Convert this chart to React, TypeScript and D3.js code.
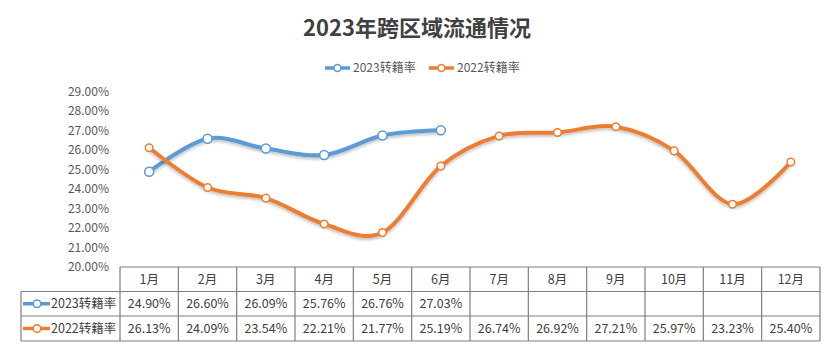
import React from 'react';
import * as d3 from 'd3';

const months = ['1月', '2月', '3月', '4月', '5月', '6月', '7月', '8月', '9月', '10月', '11月', '12月'];
const rate2023 = [24.9, 26.6, 26.09, 25.76, 26.76, 27.03];
const rate2022 = [26.13, 24.09, 23.54, 22.21, 21.77, 25.19, 26.74, 26.92, 27.21, 25.97, 23.23, 25.4];
const yTicks = [20, 21, 22, 23, 24, 25, 26, 27, 28, 29];
const seriesNames = ['2023转籍率', '2022转籍率'];
const title = '2023年跨区域流通情况';

const W = 834;
const H = 348;
const BLUE = '#5B9BD5';
const ORANGE = '#ED7D31';
const FONT = '"Noto Sans CJK SC", "Noto Sans", sans-serif';

export default function App() {
  const x = d3.scaleBand<string>().domain(months).range([120, 820]);
  const y = d3.scaleLinear().domain([20, 29]).range([267, 92]);
  const cx = (i: number) => (x(months[i]) as number) + x.bandwidth() / 2;
  const line = d3
    .line<number>()
    .x((_, i) => cx(i))
    .y((d) => y(d))
    .curve(d3.curveCardinal.tension(0));

  const series = [
    { name: seriesNames[0], data: rate2023, color: BLUE, r: 4.5 },
    { name: seriesNames[1], data: rate2022, color: ORANGE, r: 3.8 },
  ];

  const rowTops = [267, 291.5, 316, 341];
  const tableLeft = 21;
  const tableRight = 820;

  return (
    <svg
      width={W}
      height={H}
      style={{ position: 'absolute', left: 0, top: 0, background: '#fff' }}
      fontFamily={FONT}
    >
      <defs>
        <filter id="sh" x="-10%" y="-20%" width="120%" height="150%">
          <feDropShadow dx="0" dy="2" stdDeviation="1.5" floodColor="#000" floodOpacity="0.25" />
        </filter>
      </defs>
      <rect width={W} height={H} fill="#fff" />
      <text x={417} y={36} textAnchor="middle" fontSize={22} fontWeight="bold" fill="#404040">
        {title}
      </text>

      {/* legend */}
      {series.map((s, i) => {
        const lx = i === 0 ? 325 : 429;
        return (
          <g key={s.name}>
            <line x1={lx} x2={lx + 25} y1={68} y2={68} stroke={s.color} strokeWidth={3.5} />
            <circle cx={lx + 12.5} cy={68} r={3.5} fill="#fff" stroke={s.color} strokeWidth={1.5} />
            <text x={lx + 28} y={72} fontSize={12} fill="#595959">
              {s.name}
            </text>
          </g>
        );
      })}

      {/* y axis labels */}
      {yTicks.map((t) => (
        <text key={t} x={109} y={y(t) + 4} textAnchor="end" fontSize={12} fill="#595959">
          {t.toFixed(2)}%
        </text>
      ))}

      {/* lines */}
      {series.map((s) => (
        <g key={s.name}>
          <path d={line(s.data) || ''} fill="none" stroke={s.color} strokeWidth={4} strokeLinecap="round" filter="url(#sh)" />
          {s.data.map((v, i) => (
            <circle key={i} cx={cx(i)} cy={y(v)} r={s.r} fill="#fff" stroke={s.color} strokeWidth={1.5} />
          ))}
        </g>
      ))}

      {/* table */}
      <g stroke="#7f7f7f" strokeWidth={1.2}>
        <line x1={120} x2={tableRight} y1={rowTops[0]} y2={rowTops[0]} />
        {rowTops.slice(1).map((ry) => (
          <line key={ry} x1={tableLeft} x2={tableRight} y1={ry} y2={ry} />
        ))}
        <line x1={tableLeft} x2={tableLeft} y1={rowTops[1]} y2={rowTops[3]} />
        {months.map((m) => (
          <line key={m} x1={x(m) as number} x2={x(m) as number} y1={rowTops[0]} y2={rowTops[3]} />
        ))}
        <line x1={tableRight} x2={tableRight} y1={rowTops[0]} y2={rowTops[3]} />
      </g>
      {months.map((m, i) => (
        <text key={m} x={cx(i)} y={284} textAnchor="middle" fontSize={12.5} fill="#404040">
          {m}
        </text>
      ))}
      {series.map((s, si) => {
        const ry = (rowTops[si + 1] + rowTops[si + 2]) / 2;
        return (
          <g key={s.name}>
            <line x1={23} x2={50} y1={ry} y2={ry} stroke={s.color} strokeWidth={3.5} />
            <circle cx={37} cy={ry} r={3.8} fill="#fff" stroke={s.color} strokeWidth={1.5} />
            <text x={51} y={ry + 4.5} fontSize={12.5} fill="#404040">
              {s.name}
            </text>
            {s.data.map((v, i) => (
              <text key={i} x={cx(i)} y={ry + 4.5} textAnchor="middle" fontSize={12.5} fill="#404040">
                {v.toFixed(2)}%
              </text>
            ))}
          </g>
        );
      })}
    </svg>
  );
}
